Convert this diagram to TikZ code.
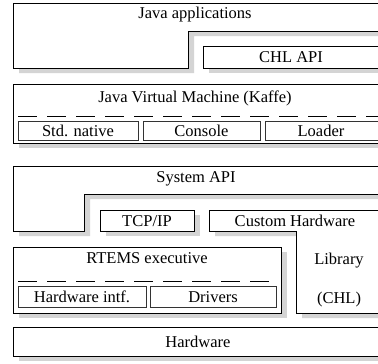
\documentclass[tikz,border=0pt]{standalone}
\usepackage{fontspec}
\setmainfont{Liberation Serif}
\begin{document}
\begin{tikzpicture}[x=1pt,y=-1pt,
  box/.style={draw=black,line width=0.8pt,fill=white},
  subbox/.style={draw=black!80,line width=1pt,fill=white},
  shade/.style={fill=black!17,draw=none},
  lbl/.style={anchor=base,inner sep=0pt,font=\fontsize{16.5}{19}\selectfont},
  dashline/.style={line width=0.8pt,dash pattern=on 19pt off 10pt}]
\useasboundingbox (0,0) rectangle (378,364);
\clip (0,0) rectangle (378,364);
\fill[white] (0,0) rectangle (378,364);
% shadows
\begin{scope}[shift={(6,5)}]
  \fill[shade] (13,3) -- (385,3) -- (385,31) -- (188,31) -- (188,68) -- (13,68) -- cycle;
  \fill[shade] (203,46) rectangle (385,68);
  \fill[shade] (13,84) rectangle (385,143);
  \fill[shade] (13,166) -- (385,166) -- (385,194) -- (84,194) -- (84,231) -- (13,231) -- cycle;
  \fill[shade] (100,210) rectangle (194,231);
  \fill[shade] (209,210) -- (385,210) -- (385,313) -- (296,313) -- (296,231) -- (209,231) -- cycle;
  \fill[shade] (13,247) rectangle (281,313);
  \fill[shade] (13,327) rectangle (385,356);
\end{scope}
% Java applications
\draw[box] (13,3) -- (385,3) -- (385,31) -- (188,31) -- (188,68) -- (13,68) -- cycle;
\node[lbl] (japps) at (195,19) {Java applications};
\draw[box] (203,46) rectangle (385,68);
\node[lbl] (chlapi) at (291,62.5) {CHL API};
% JVM
\draw[box] (13,84) rectangle (385,143);
\node[lbl] (jvm) at (195,102.5) {Java Virtual Machine (Kaffe)};
\draw[dashline] (18,116) -- (385,116);
\draw[subbox] (18,121) rectangle (138,140);
\node[lbl] (stdnat) at (78,136) {Std. native};
\draw[subbox] (143,121) rectangle (260,140);
\node[lbl] (console) at (201.5,136) {Console};
\draw[subbox] (265,121) rectangle (380,140);
\node[lbl] (loader) at (321,136) {Loader};
% System API
\draw[box] (13,166) -- (385,166) -- (385,194) -- (84,194) -- (84,231) -- (13,231) -- cycle;
\node[lbl] (sysapi) at (196,182.5) {System API};
\draw[box] (100,210) rectangle (194,231);
\node[lbl] (tcpip) at (147,226) {TCP/IP};
\draw[box] (209,210) -- (385,210) -- (385,313) -- (296,313) -- (296,231) -- (209,231) -- cycle;
\node[lbl] (custhw) at (295,226) {Custom Hardware};
\node[lbl] (library) at (339,264.5) {Library};
\node[lbl] (chl) at (339,303) {(CHL)};
% RTEMS
\draw[box] (13,247) rectangle (281,313);
\node[lbl] (rtems) at (147,263.5) {RTEMS executive};
\draw[dashline] (18,281) -- (272,281);
\draw[subbox] (18,286) rectangle (146,307);
\node[lbl] (hwintf) at (82,302) {Hardware intf.};
\draw[subbox] (150,286) rectangle (276,307);
\node[lbl] (drivers) at (213,302) {Drivers};
% Hardware
\draw[box] (13,327) rectangle (385,356);
\node[lbl] (hw) at (198,347) {Hardware};
\end{tikzpicture}
\end{document}
